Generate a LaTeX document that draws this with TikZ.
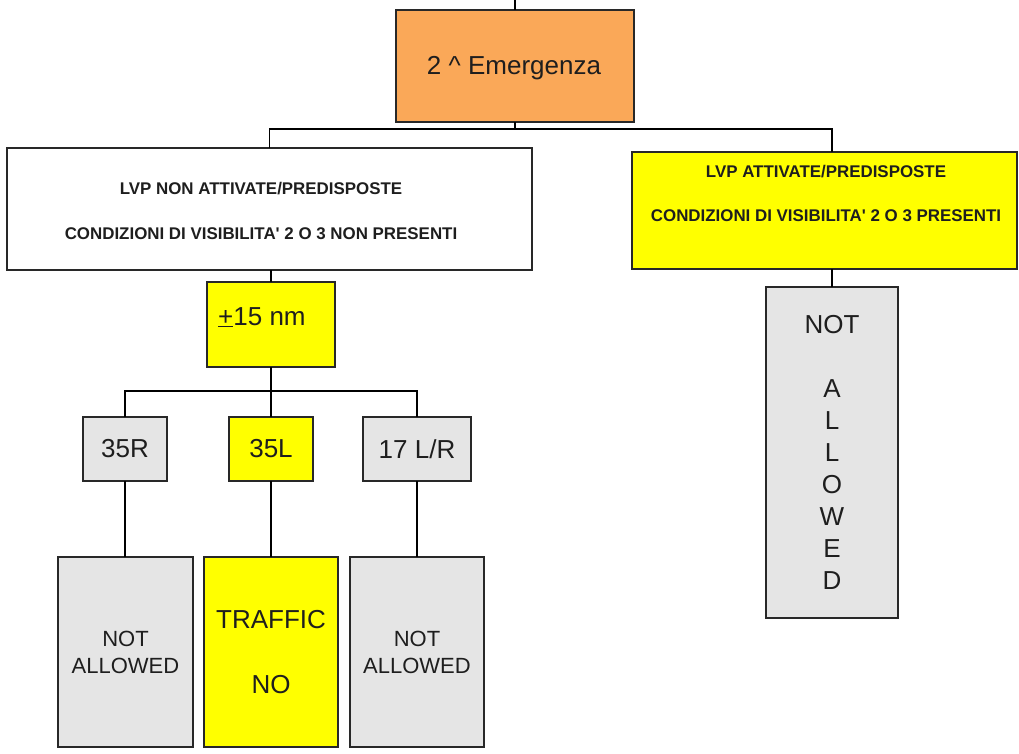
\documentclass[tikz,border=0pt]{standalone}
\usepackage{fontspec}
\setmainfont{Liberation Sans}
\definecolor{orangefill}{RGB}{250,168,88}
\definecolor{yel}{RGB}{255,255,0}
\definecolor{grayfill}{RGB}{229,229,229}
\definecolor{edge}{RGB}{40,40,40}
\definecolor{txt}{RGB}{30,30,30}
\begin{document}
\begin{tikzpicture}[x=1pt,y=-1pt,
  box/.style={draw=edge, line width=1.8pt, inner sep=0pt, outer sep=0pt, anchor=north west, text=txt, align=center},
  conn/.style={draw=black, line width=1.4pt},
  bigtext/.style={font=\fontsize{26}{32}\selectfont},
  smalltext/.style={font=\fontsize{22}{27}\selectfont},
  boldtext/.style={font=\bfseries\fontsize{16.9}{45}\selectfont}
]
\useasboundingbox (0,0) rectangle (1019,753);

% top box
\node[box, fill=orangefill, minimum width=238pt, minimum height=112pt] (em) at (396,10) {};
\node[text=txt, bigtext, inner sep=0pt] (emt) at (514,68) {2 \^{} Emergenza};
\coordinate (top) at (em.north |- 0,0);
\draw[conn] (top) -- (em.north);

% second level
\node[box, fill=white, minimum width=525pt, minimum height=122pt] (lb) at (7,148) {};
\node[text=txt, align=center, boldtext] (lbt) at (261,211) {LVP NON ATTIVATE/PREDISPOSTE\\CONDIZIONI DI VISIBILITA\textquotesingle{} 2 O 3 NON PRESENTI};
\node[box, fill=yel, minimum width=385pt, minimum height=117pt] (rb) at (632,152) {};
\node[text=txt, align=center, font=\bfseries\fontsize{16.9}{44}\selectfont] (rbt) at (826,193) {LVP ATTIVATE/PREDISPOSTE\\CONDIZIONI DI VISIBILITA\textquotesingle{} 2 O 3 PRESENTI};

% right tall box
\node[box, fill=grayfill, minimum width=132pt, minimum height=331pt, bigtext] (rg) at (766,287) {NOT\\[32pt]A\\L\\L\\O\\W\\E\\D};

% junction
\coordinate (j1) at (em.south |- 0,129);
\draw[conn] (em.south) -- (j1);
\draw[conn] (lb.north) |- (j1) -| (rg.north |- rb.north);
\draw[conn] (rb.south -| rg.north) -- (rg.north);

% +-15 nm
\node[box, fill=yel, minimum width=128pt, minimum height=85pt] (pm) at (207,282) {};
\node[text=txt, anchor=base west, inner sep=0pt, bigtext] (pmt) at (218,325) {\underline{+}15 nm};
\draw[conn] (lb.south -| pm.north) -- (pm.north);

% runways
\node[box, fill=grayfill, minimum width=84pt, minimum height=64pt, bigtext] (r35r) at (83,417) {35R};
\node[box, fill=yel, minimum width=84pt, minimum height=64pt, bigtext] (r35l) at (229,417) {35L};
\node[box, fill=grayfill, minimum width=108pt, minimum height=64pt, bigtext] (r17) at (363,417) {17 L/R};
\coordinate (j2) at (pm.south |- 0,391);
\draw[conn] (pm.south) -- (r35l.north);
\draw[conn] (r35r.north) |- (j2) -| (r17.north);

% bottom
\node[box, fill=grayfill, minimum width=135pt, minimum height=190pt, smalltext] (b1) at (58,557) {NOT\\ALLOWED};
\node[box, fill=yel, minimum width=134pt, minimum height=190pt, font=\fontsize{26}{65}\selectfont] (b2) at (204,557) {TRAFFIC\\NO};
\node[box, fill=grayfill, minimum width=134pt, minimum height=190pt, smalltext] (b3) at (350,557) {NOT\\ALLOWED};
\draw[conn] (r35r.south) -- (r35r.south |- b1.north);
\draw[conn] (r35l.south) -- (r35l.south |- b2.north);
\draw[conn] (r17.south) -- (r17.south |- b3.north);
\end{tikzpicture}
\end{document}
